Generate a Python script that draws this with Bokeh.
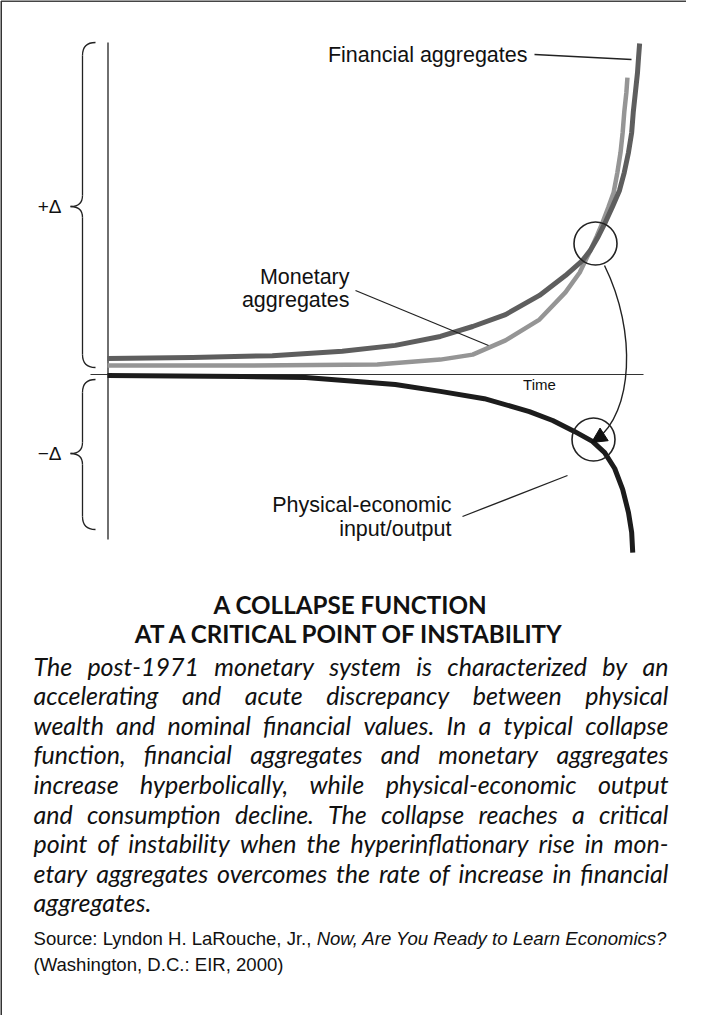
import subprocess
from bokeh.plotting import figure
from bokeh.models import Range1d, Arrow, NormalHead
from bokeh.core.properties import value
from bokeh.embed import file_html
from bokeh.resources import INLINE

# ---------------- data (time units, value units) ----------------
fin_time = [0.0, 16.0, 31.1, 44.3, 54.3, 62.8, 68.9, 75.1, 81.5, 86.4, 89.6, 91.1,
            92.6, 94.0, 95.3, 96.6, 97.5, 98.3, 98.9, 99.2, 99.6, 100.0, 100.2, 100.4]
fin_value = [4.8, 5.1, 5.7, 7.0, 8.8, 11.5, 14.5, 18.1, 23.9, 29.9, 34.4, 37.5,
             41.7, 46.2, 50.8, 55.6, 61.0, 67.1, 73.1, 79.2, 85.2, 91.2, 95.8, 100.0]
mon_time = [0.0, 25.5, 50.9, 62.8, 68.9, 75.1, 81.5, 86.4, 89.1, 91.1, 92.3, 93.4,
            94.5, 95.5, 96.2, 96.8, 97.2, 97.5, 97.9, 98.1]
mon_value = [2.7, 2.7, 3.0, 4.5, 6.0, 10.3, 16.6, 24.8, 30.8, 37.5, 41.7, 45.9,
             50.5, 55.0, 61.0, 67.1, 73.1, 79.2, 85.2, 89.7]
phys_time = [0.0, 25.5, 37.4, 54.3, 62.8, 71.1, 79.6, 84.0, 88.1, 91.5, 93.8, 95.7,
             97.2, 98.3, 98.9, 99.1]
phys_value = [-0.3, -0.6, -0.9, -3.0, -5.1, -7.3, -11.2, -13.9, -17.2, -20.2, -23.6,
              -28.4, -34.7, -41.7, -47.7, -53.8]

label_fin = "Financial aggregates"
label_mon = ["Monetary", "aggregates"]
label_phys = ["Physical-economic", "input/output"]
label_time = "Time"
label_plus = "+\u0394"
label_minus = "\u2212\u0394"
title_lines = ["A COLLAPSE FUNCTION", "AT A CRITICAL POINT OF INSTABILITY"]
body_lines = [
    "The post-1971 monetary system is characterized by an",
    "accelerating and acute discrepancy between physical",
    "wealth and nominal financial values. In a typical collapse",
    "function, financial aggregates and monetary aggregates",
    "increase hyperbolically, while physical-economic output",
    "and consumption decline. The collapse reaches a critical",
    "point of instability when the hyperinflationary rise in mon-",
    "etary aggregates overcomes the rate of increase in financial",
    "aggregates.",
]
source_regular = "Source: Lyndon H. LaRouche, Jr., "
source_italic = "Now, Are You Ready to Learn Economics?"
source_line2 = "(Washington, D.C.: EIR, 2000)"

# ---------------- font measuring ----------------
def measurer(pattern, avg=0.5):
    try:
        from PIL import ImageFont
        r = subprocess.run(["fc-match", "-f", "%{file}", pattern],
                           capture_output=True, text=True, timeout=10)
        path = r.stdout.strip()
        f = ImageFont.truetype(path, 200)
        return lambda s, size: f.getlength(s) * size / 200.0
    except Exception:
        return lambda s, size: len(s) * avg * size

m_body = measurer("Lato:style=Italic", 0.47)
m_title = measurer("Lato:style=Bold", 0.62)
m_sans = measurer("Liberation Sans", 0.5)
m_sans_i = measurer("Liberation Sans:style=Italic", 0.5)

def clamp(v, lo, hi):
    return max(lo, min(hi, v))

# ---------------- geometry: page pixels -> data ----------------
X0, SX = 115.0, 5.3     # page x of time 0, px per time unit
Y0, SY = 382.0, 3.31    # page y of value 0, px per value unit
W, H = 686, 1015

def P(x, y):
    return (x - X0) / SX, (Y0 - y) / SY

p = figure(width=W, height=H, output_backend="svg", toolbar_location=None,
           x_range=Range1d((8 - X0) / SX, (8 + W - X0) / SX),
           y_range=Range1d((Y0 - 8 - H) / SY, (Y0 - 8) / SY),
           min_border=0)
p.axis.visible = False
p.grid.visible = False
p.outline_line_color = None
p.background_fill_color = "white"
p.border_fill_color = "white"

def seg(x0, y0, x1, y1, color="#222", width=1.3):
    a = P(x0, y0); b = P(x1, y1)
    p.segment(x0=[a[0]], y0=[a[1]], x1=[b[0]], y1=[b[1]], line_color=color, line_width=width)

def quad(x0, y0, cx, cy, x1, y1, color="#222", width=1.3):
    a = P(x0, y0); c = P(cx, cy); b = P(x1, y1)
    p.quadratic(x0=[a[0]], y0=[a[1]], x1=[b[0]], y1=[b[1]], cx=[c[0]], cy=[c[1]],
                line_color=color, line_width=width)

def text(x, y, s, font="Liberation Sans", size=21, align="left", style="normal", color="#111"):
    a = P(x, y)
    p.text(x=[a[0]], y=[a[1]], text=[s], text_font=value(font), text_font_size=value(f"{size:.2f}px"),
           text_align=align, text_baseline="middle", text_font_style=style, text_color=color)

# frame
seg(8.5, 8.5, 694, 8.5, "#444", 2)
seg(8.5, 8.5, 8.5, 1023, "#333", 2)

# axes
seg(115.5, 50, 115.5, 547, "#222", 1.3)
seg(98, 382, 651, 382, "#333", 1.2)

# braces
def brace(top, bottom, tip, xs=90, xe=103, xt=78):
    quad(xe, top, xs, top, xs, top + 13)
    seg(xs, top + 13, xs, tip - 11)
    quad(xs, tip - 11, xs, tip, xt, tip)
    quad(xt, tip, xs, tip, xs, tip + 11)
    seg(xs, tip + 11, xs, bottom - 13)
    quad(xs, bottom - 13, xs, bottom, xe, bottom)

brace(50, 375, 214)
brace(387, 537, 461)
text(69, 214, label_plus, size=19, align="right")
text(69, 461, label_minus, size=19, align="right")

# series
p.line(mon_time, mon_value, line_color="#959595", line_width=4.5, line_join="round")
p.line(fin_time, fin_value, line_color="#5e5e5e", line_width=5, line_join="round")
p.line(phys_time, phys_value, line_color="#1c1c1c", line_width=5, line_join="round")

# critical point circles and connecting arrow
cx, cy = zip(P(603, 251), P(601, 447))
p.scatter(x=list(cx), y=list(cy), size=43, marker="circle", fill_color=None,
          line_color="#222", line_width=1.6)
b0, b1, b2, b3 = P(612, 273), P(645, 340), P(640, 420), P(604, 447)
p.bezier(x0=[b0[0]], y0=[b0[1]], x1=[b3[0]], y1=[b3[1]], cx0=[b1[0]], cy0=[b1[1]],
         cx1=[b2[0]], cy1=[b2[1]], line_color="#222", line_width=1.4)
a0, a1 = P(613, 441), P(599, 450)
p.add_layout(Arrow(end=NormalHead(size=15, fill_color="#111", line_color="#111"),
                   x_start=a0[0], y_start=a0[1], x_end=a1[0], y_end=a1[1], line_alpha=0))

# labels and leaders
text(535, 62, label_fin, size=21.5, align="right")
seg(542, 62, 639, 67, "#222", 1.5)
text(357, 284, label_mon[0], size=21.5, align="right")
text(357, 307, label_mon[1], size=21.5, align="right")
seg(363, 298, 496, 353, "#222", 1.3)
text(459, 512, label_phys[0], size=21.5, align="right")
text(459, 536, label_phys[1], size=21.5, align="right")
seg(470, 524, 575, 483, "#222", 1.3)
text(547, 392, label_time, size=15, align="center")

# title
ts = clamp(427 / max(m_title(title_lines[1], 1.0), 1e-6), 17, 26)
text(358, 612, title_lines[0], font="Lato", size=ts, align="center", style="bold")
text(358, 641, title_lines[1], font="Lato", size=ts, align="center", style="bold")

# body (justified)
left, right = 41, 676
bs = clamp(628 / max(m_body(l, 1.0) for l in body_lines[:-1]), 18, 25)
wx, wy, wt = [], [], []
for i, line in enumerate(body_lines):
    y = 673 + 29.6 * i
    words = line.split(" ")
    if i < len(body_lines) - 1 and len(words) > 1:
        widths = [m_body(w, bs) for w in words]
        gap = (right - left - sum(widths)) / (len(words) - 1)
        x = left
        for w, wd in zip(words, widths):
            a = P(x, y)
            wx.append(a[0]); wy.append(a[1]); wt.append(w)
            x += wd + gap
    else:
        a = P(left, y)
        wx.append(a[0]); wy.append(a[1]); wt.append(line)
p.text(x=wx, y=wy, text=wt, text_font=value("Lato"), text_font_style="italic",
       text_font_size=value(f"{bs:.2f}px"), text_baseline="middle", text_align="left",
       text_color="#111")

# source
tot1 = m_sans(source_regular, 1.0) + m_sans_i(source_italic, 1.0)
ss = clamp(633 / max(tot1, 1e-6), 15, 20)
text(41, 946, source_regular, size=ss)
text(41 + m_sans(source_regular, ss), 946, source_italic, size=ss, style="italic")
text(41, 972, source_line2, size=ss)

open("out.html", "w").write(file_html(p, INLINE))
